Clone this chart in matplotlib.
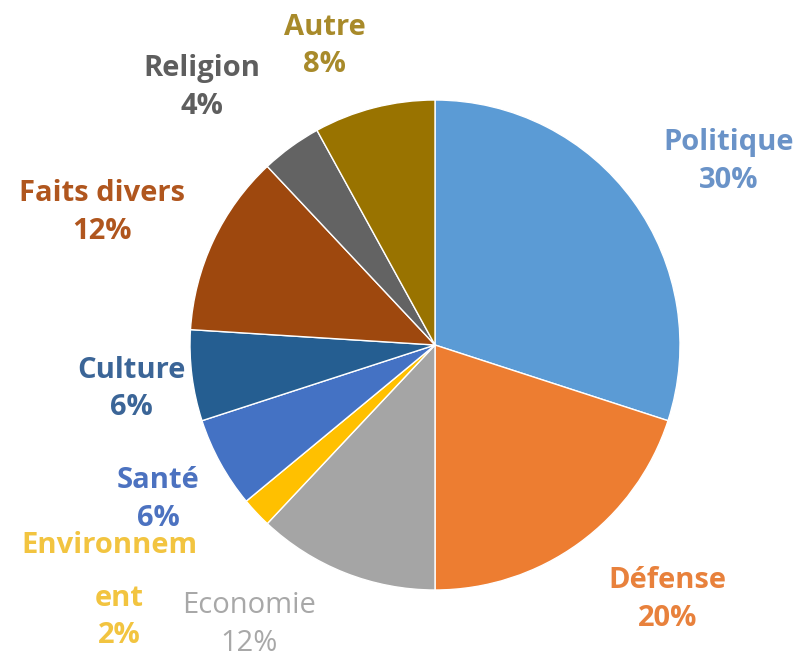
import matplotlib
matplotlib.use("Agg")
import matplotlib.pyplot as plt

# Slices, clockwise from 12 o'clock
categories = ["Politique", "Défense", "Economie", "Environnement", "Santé",
              "Culture", "Faits divers", "Religion", "Autre"]
shares = [30, 20, 12, 2, 6, 6, 12, 4, 8]

colors = ["#5B9BD5", "#ED7D31", "#A5A5A5", "#FFC000", "#4472C4",
          "#255E91", "#9E480E", "#636363", "#997300"]
label_colors = ["#6A93C8", "#E8813C", "#A8A8A8", "#F2C440", "#4C72C0",
                "#3B6597", "#B0561E", "#5E5E5E", "#A88A2A"]

# label pieces: (slice index, text, centre in pie radii from the centre)
# the long Environnement label wraps like in the source chart
label_parts = [
    (0, "Politique\n30%", (1.20, 0.75)),
    (1, "Défense\n20%", (0.95, -1.04)),
    (2, "Economie\n12%", (-0.76, -1.14)),
    (3, "Environnem", (-1.33, -0.82)),
    (3, "ent\n2%", (-1.29, -1.11)),
    (4, "Santé\n6%", (-1.13, -0.63)),
    (5, "Culture\n6%", (-1.24, -0.18)),
    (6, "Faits divers\n12%", (-1.36, 0.54)),
    (7, "Religion\n4%", (-0.95, 1.05)),
    (8, "Autre\n8%", (-0.45, 1.22)),
]

W, H = 804, 662
cx, cy, r = 435, 345, 245

fig = plt.figure(figsize=(W / 100, H / 100), dpi=100)
ax = fig.add_axes([(cx - r) / W, (H - cy - r) / H, 2 * r / W, 2 * r / H])
ax.pie(shares, colors=colors, startangle=90, counterclock=False, radius=1,
       wedgeprops=dict(edgecolor="white", linewidth=1))
ax.set_xlim(-1, 1)
ax.set_ylim(-1, 1)
ax.set_aspect("equal")
ax.axis("off")

for i, txt, (x, y) in label_parts:
    weight = "normal" if categories[i] == "Economie" else "bold"
    ax.text(x, y, txt, ha="center", va="center", color=label_colors[i],
            fontsize=21, fontweight=weight, family=["Open Sans", "DejaVu Sans"],
            linespacing=1.4, clip_on=False)

fig.savefig("out.png", dpi=100)
